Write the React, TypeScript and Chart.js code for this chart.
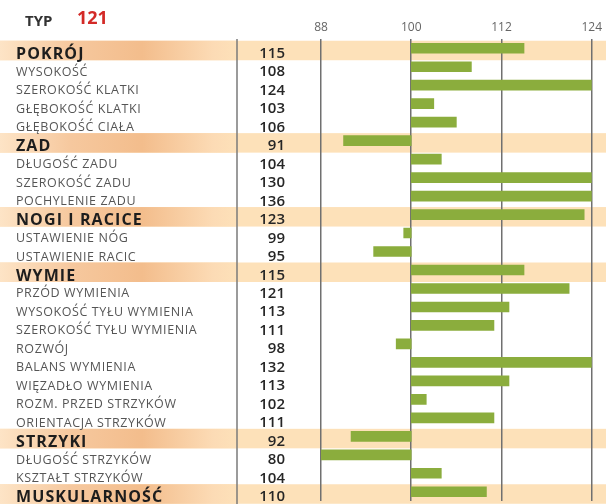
import { useEffect, useRef } from "react";
import { Chart, registerables } from "chart.js";

Chart.register(...registerables);

const traitLabels = [
  "POKRÓJ",
  "WYSOKOŚĆ",
  "SZEROKOŚĆ KLATKI",
  "GŁĘBOKOŚĆ KLATKI",
  "GŁĘBOKOŚĆ CIAŁA",
  "ZAD",
  "DŁUGOŚĆ ZADU",
  "SZEROKOŚĆ ZADU",
  "POCHYLENIE ZADU",
  "NOGI I RACICE",
  "USTAWIENIE NÓG",
  "USTAWIENIE RACIC",
  "WYMIE",
  "PRZÓD WYMIENIA",
  "WYSOKOŚĆ TYŁU WYMIENIA",
  "SZEROKOŚĆ TYŁU WYMIENIA",
  "ROZWÓJ",
  "BALANS WYMIENIA",
  "WIĘZADŁO WYMIENIA",
  "ROZM. PRZED STRZYKÓW",
  "ORIENTACJA STRZYKÓW",
  "STRZYKI",
  "DŁUGOŚĆ STRZYKÓW",
  "KSZTAŁT STRZYKÓW",
  "MUSKULARNOŚĆ",
];

const traitValues = [
  115, 108, 124, 103, 106, 91, 104, 130, 136, 123, 99, 95, 115, 121, 113, 111,
  98, 132, 113, 102, 111, 92, 80, 104, 110,
];

const groupRows = ["POKRÓJ", "ZAD", "NOGI I RACICE", "WYMIE", "STRZYKI", "MUSKULARNOŚĆ"];

const tickValues = [88, 100, 112, 124];
const baseValue = 100;
const typLabel = "TYP";
const typValue = "121";

const FONT = "'Open Sans', 'Noto Sans', sans-serif";

export default function App() {
  const ref = useRef<HTMLCanvasElement>(null);

  useEffect(() => {
    const canvas = ref.current;
    if (!canvas) return;

    const tablePlugin = {
      id: "tablePlugin",
      beforeDraw(chart: any) {
        const { ctx, width, height } = chart;
        const y = chart.scales.y;
        ctx.save();
        ctx.fillStyle = "#ffffff";
        ctx.fillRect(0, 0, width, height);
        traitLabels.forEach((lab, i) => {
          if (!groupRows.includes(lab)) return;
          const c = y.getPixelForValue(i);
          const top = c - 7.5;
          const h = 19.5;
          ctx.fillStyle = "#fde1b9";
          ctx.fillRect(0, top, width, h);
          const g = ctx.createLinearGradient(0, 0, 237, 0);
          g.addColorStop(0, "#fde4c6");
          g.addColorStop(0.3, "#f6c89e");
          g.addColorStop(0.6, "#f3bd8c");
          g.addColorStop(0.9, "#fcdbb5");
          g.addColorStop(1, "#fde1b9");
          ctx.fillStyle = g;
          ctx.fillRect(0, top, 237, h);
        });
        ctx.restore();
      },
      afterDraw(chart: any) {
        const { ctx, height } = chart;
        const y = chart.scales.y;
        ctx.save();
        // separator line
        ctx.strokeStyle = "#7a7a7a";
        ctx.lineWidth = 1.5;
        ctx.beginPath();
        ctx.moveTo(237, chart.chartArea.top);
        ctx.lineTo(237, height);
        ctx.stroke();

        // header
        ctx.textAlign = "left";
        ctx.textBaseline = "alphabetic";
        ctx.fillStyle = "#333333";
        ctx.font = `bold 15px ${FONT}`;
        ctx.fillText(typLabel, 25, 26);
        ctx.fillStyle = "#d32a27";
        ctx.font = `bold 18px ${FONT}`;
        ctx.fillText(typValue, 77, 24);

        traitLabels.forEach((lab, i) => {
          const c = y.getPixelForValue(i);
          const isGroup = groupRows.includes(lab);
          ctx.textAlign = "left";
          if (isGroup) {
            ctx.font = `bold 16px ${FONT}`;
            ctx.fillStyle = "#1d1d1d";
            (ctx as any).letterSpacing = "1.1px";
            ctx.fillText(lab, 16, c + 10.5);
          } else {
            ctx.font = `12.5px ${FONT}`;
            ctx.fillStyle = "#555555";
            (ctx as any).letterSpacing = "0.6px";
            ctx.fillText(lab, 16, c + 9);
          }
          (ctx as any).letterSpacing = "0px";
          ctx.textAlign = "right";
          ctx.font = `600 15px ${FONT}`;
          ctx.fillStyle = "#262626";
          ctx.fillText(String(traitValues[i]), 285, c + 9.5);
        });
        ctx.restore();
      },
    };

    const chart = new Chart(canvas, {
      type: "bar",
      data: {
        labels: traitLabels,
        datasets: [
          {
            data: traitValues.map((v) => [baseValue, v]) as any,
            backgroundColor: "#8bad3d",
            borderWidth: 0,
            borderSkipped: false,
            barThickness: 10,
            clip: 0,
          } as any,
        ],
      },
      options: {
        indexAxis: "y",
        responsive: false,
        animation: false,
        devicePixelRatio: 1,
        layout: { padding: { left: 321, right: 10, top: 0, bottom: 3 } },
        plugins: {
          legend: { display: false },
          tooltip: { enabled: false },
        },
        scales: {
          x: {
            type: "linear",
            position: "top",
            min: 88,
            max: 124,
            afterBuildTicks: (s: any) => {
              s.ticks = tickValues.map((v) => ({ value: v }));
            },
            afterFit: (s: any) => {
              s.height = 39;
            },
            ticks: {
              font: { family: FONT, size: 12 },
              color: "#666666",
              padding: 4,
            },
            grid: { color: "#707070", lineWidth: 1.5, drawTicks: false },
            border: { display: false },
          },
          y: {
            type: "category",
            display: false,
            grid: { display: false },
          },
        },
      } as any,
      plugins: [tablePlugin],
    });

    return () => chart.destroy();
  }, []);

  return (
    <div style={{ position: "absolute", left: 0, top: 0, width: 606, height: 504 }}>
      <canvas ref={ref} width={606} height={504} style={{ width: 606, height: 504 }} />
    </div>
  );
}
